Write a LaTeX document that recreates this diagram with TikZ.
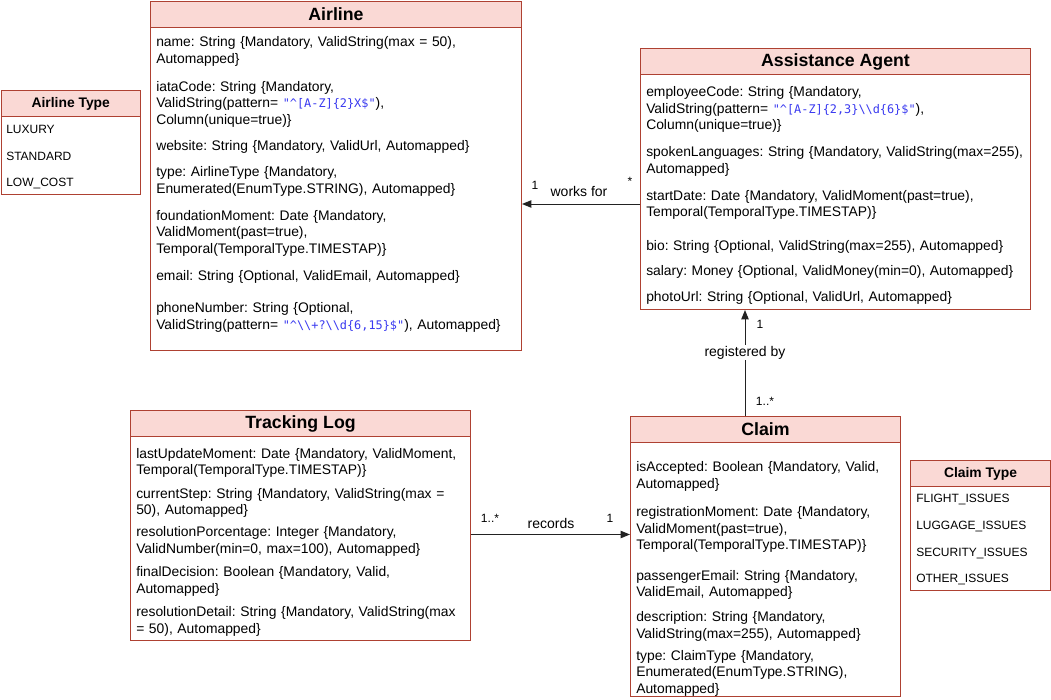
\documentclass[tikz,border=0pt]{standalone}
\usepackage{fontspec}
\setmainfont{Liberation Sans}
\newfontfamily\codefont{DejaVu Sans Mono}
\usetikzlibrary{arrows.meta}
\frenchspacing
\definecolor{hdrfill}{HTML}{FAD9D5}
\definecolor{hdrline}{HTML}{AE4132}
\definecolor{codeblue}{HTML}{3A3AF0}
\definecolor{connline}{HTML}{222222}
\newcommand{\cd}[1]{{\codefont\fontsize{8.9}{12}\selectfont\color{codeblue}#1}}
\newcommand{\bs}{\textbackslash}
\newcommand{\attr}[4]{\node[attrtext] (#1) at ({#2},{#3+5}) {#4};}
\newcommand{\enumitem}[4]{\node[enumtext] (#1) at ({#2},{#3+4.3}) {#4};}
\newcommand{\umlbox}[7]{%
  \node[bodybox, minimum width={(#4-#2)*0.75pt}, minimum height={(#5-#3)*0.75pt}] (#1) at (#2,#3) {};
  \node[hdrbox, minimum width={(#4-#2)*0.75pt}, anchor=north] (#1h) at (#1.north) {#7#6};}
\begin{document}
\begin{tikzpicture}[x=0.75pt,y=-0.75pt,
  bodybox/.style={draw=hdrline, fill=white, line width=0.75pt, anchor=north west, inner sep=0pt},
  hdrbox/.style={draw=hdrline, fill=hdrfill, line width=0.75pt, inner sep=0pt, minimum height=19.5pt},
  attrtext/.style={anchor=base west, inner sep=0pt, align=left, text width=300pt,
    font=\fontsize{10.4}{12.45}\selectfont\frenchspacing},
  enumtext/.style={anchor=base west, inner sep=0pt, font=\fontsize{9}{11}\selectfont},
  conn/.style={draw=connline, line width=0.75pt, -{Triangle[length=7pt,width=5.5pt]}},
  lbl/.style={inner sep=1pt, font=\fontsize{10.5}{12}\selectfont},
  mult/.style={inner sep=0pt, font=\fontsize{9}{11}\selectfont}]
\useasboundingbox (0,0) rectangle (1051,700);
\fill[white] (0,0) rectangle (1051,700);

% ---- Airline
\umlbox{airline}{150}{0.5}{521}{350}{Airline}{\bfseries\fontsize{13.3}{15}\selectfont}
\attr{al1}{156}{41.7}{name: String \{Mandatory, ValidString(max = 50),\\Automapped\}}
\attr{al2}{156}{86}{iataCode: String \{Mandatory,\\ValidString(pattern= \cd{"\textasciicircum[A-Z]\{2\}X\$"}),\\Column(unique=true)\}}
\attr{al3}{156}{145.7}{website: String \{Mandatory, ValidUrl, Automapped\}}
\attr{al4}{156}{171.7}{type: AirlineType \{Mandatory,\\Enumerated(EnumType.STRING), Automapped\}}
\attr{al5}{156}{215}{foundationMoment: Date \{Mandatory,\\ValidMoment(past=true),\\Temporal(TemporalType.TIMESTAP)\}}
\attr{al6}{156}{275.5}{email: String \{Optional, ValidEmail, Automapped\}}
\attr{al7}{156}{307.7}{phoneNumber: String \{Optional,\\ValidString(pattern= \cd{"\textasciicircum\bs\bs+?\bs\bs d\{6,15\}\$"}), Automapped\}}

% ---- Airline Type
\umlbox{atype}{0.5}{90}{140}{194}{Airline Type}{\bfseries\fontsize{10.4}{12}\selectfont}
\enumitem{at1}{6}{129.3}{LUXURY}
\enumitem{at2}{6}{155.7}{STANDARD}
\enumitem{at3}{6}{181.7}{LOW\_COST}

% ---- Assistance Agent
\umlbox{agent}{640}{48}{1030}{309}{Assistance Agent}{\bfseries\fontsize{13.3}{15}\selectfont}
\attr{ag1}{646}{91.7}{employeeCode: String \{Mandatory,\\ValidString(pattern= \cd{"\textasciicircum[A-Z]\{2,3\}\bs\bs d\{6\}\$"}),\\Column(unique=true)\}}
\attr{ag2}{646}{151.7}{spokenLanguages: String \{Mandatory, ValidString(max=255),\\Automapped\}}
\attr{ag3}{646}{195}{startDate: Date \{Mandatory, ValidMoment(past=true),\\Temporal(TemporalType.TIMESTAP)\}}
\attr{ag4}{646}{245}{bio: String \{Optional, ValidString(max=255), Automapped\}}
\attr{ag5}{646}{270}{salary: Money \{Optional, ValidMoney(min=0), Automapped\}}
\attr{ag6}{646}{296}{photoUrl: String \{Optional, ValidUrl, Automapped\}}

% ---- Tracking Log
\umlbox{track}{130}{410}{470}{640}{Tracking Log}{\bfseries\fontsize{13.3}{15}\selectfont}
\attr{tl1}{136}{453.3}{lastUpdateMoment: Date \{Mandatory, ValidMoment,\\Temporal(TemporalType.TIMESTAP)\}}
\attr{tl2}{136}{493.3}{currentStep: String \{Mandatory, ValidString(max =\\50), Automapped\}}
\attr{tl3}{136}{531.7}{resolutionPorcentage: Integer \{Mandatory,\\ValidNumber(min=0, max=100), Automapped\}}
\attr{tl4}{136}{571.7}{finalDecision: Boolean \{Mandatory, Valid,\\Automapped\}}
\attr{tl5}{136}{611.7}{resolutionDetail: String \{Mandatory, ValidString(max\\= 50), Automapped\}}

% ---- Claim
\umlbox{claim}{630}{416}{900}{696}{Claim}{\bfseries\fontsize{13.3}{15}\selectfont}
\attr{cl1}{636}{466.7}{isAccepted: Boolean \{Mandatory, Valid,\\Automapped\}}
\attr{cl2}{636}{511.7}{registrationMoment: Date \{Mandatory,\\ValidMoment(past=true),\\Temporal(TemporalType.TIMESTAP)\}}
\attr{cl3}{636}{575}{passengerEmail: String \{Mandatory,\\ValidEmail, Automapped\}}
\attr{cl4}{636}{616.7}{description: String \{Mandatory,\\ValidString(max=255), Automapped\}}
\attr{cl5}{636}{655}{type: ClaimType \{Mandatory,\\Enumerated(EnumType.STRING),\\Automapped\}}

% ---- Claim Type
\umlbox{ctype}{910}{460}{1050}{590}{Claim Type}{\bfseries\fontsize{10.4}{12}\selectfont}
\enumitem{ct1}{916}{498.3}{FLIGHT\_ISSUES}
\enumitem{ct2}{916}{525.5}{LUGGAGE\_ISSUES}
\enumitem{ct3}{916}{551.7}{SECURITY\_ISSUES}
\enumitem{ct4}{916}{578}{OTHER\_ISSUES}

% ---- Connectors
\draw[conn] (agent.west |- 0,204) -- (airline.east |- 0,204);
\node[lbl] (wfl) at (579,191) {works for};
\node[mult] (wf1) at (535,185) {1};
\node[mult] (wf2) at (630,181) {*};

\draw[conn] (745,0 |- claim.north) -- (745,0 |- agent.south)
  node[lbl, fill=white, pos=0.6] (rbl) {registered by};
\node[mult] (rb1) at (760,324) {1};
\node[mult] (rb2) at (765,401) {1..*};

\draw[conn] (track.east |- 0,534.5) -- (claim.west |- 0,534.5);
\node[lbl] (rcl) at (551,523) {records};
\node[mult] (rc1) at (490,518) {1..*};
\node[mult] (rc2) at (610,518) {1};
\end{tikzpicture}
\end{document}
